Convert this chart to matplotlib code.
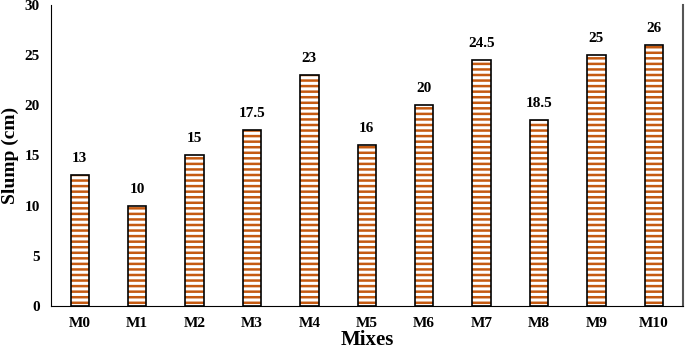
import matplotlib
matplotlib.use("Agg")
from matplotlib import pyplot as plt

# data
mixes = ["M0", "M1", "M2", "M3", "M4", "M5", "M6", "M7", "M8", "M9", "M10"]
slump = [13, 10, 15, 17.5, 23, 16, 20, 24.5, 18.5, 25, 26]
labels = ["13", "10", "15", "17.5", "23", "16", "20", "24.5", "18.5", "25", "26"]

plt.rcParams['font.family'] = ['Liberation Serif', 'DejaVu Serif']
plt.rcParams['font.weight'] = 'bold'
plt.rcParams['hatch.linewidth'] = 1.8

fig = plt.figure(figsize=(6.85, 3.5), dpi=100)
ax = fig.add_axes([0.0745, 0.126, 0.922, 0.86])

x = range(len(mixes))
# orange stripes first, black outline on top
ax.bar(x, slump, width=0.32, color='white', edgecolor='#C55A11', linewidth=0, hatch='---')
ax.bar(x, slump, width=0.32, color='none', edgecolor='black', linewidth=1.2)

for i, v in enumerate(slump):
    ax.text(i, v + 1.0, labels[i], ha='center', va='bottom', fontsize=11, fontweight='bold')

ax.set_xlim(-0.5, len(mixes) - 0.5)
ax.set_ylim(0, 30)
ax.set_yticks([0, 5, 10, 15, 20, 25, 30])
ax.set_xticks(list(x))
ax.set_xticklabels(mixes)
ax.tick_params(length=0, labelsize=11, pad=8)
for lab in ax.get_xticklabels() + ax.get_yticklabels():
    lab.set_fontweight('bold')

ax.set_xlabel("Mixes", fontsize=15, fontweight='bold', labelpad=0)
ax.set_ylabel("Slump (cm)", fontsize=14, fontweight='bold')
ax.yaxis.set_label_coords(-0.05, 0.50)

ax.spines['top'].set_visible(False)
ax.spines['right'].set_color('#555555')
ax.spines['right'].set_linewidth(1.5)

fig.savefig("out.png", dpi=100)
